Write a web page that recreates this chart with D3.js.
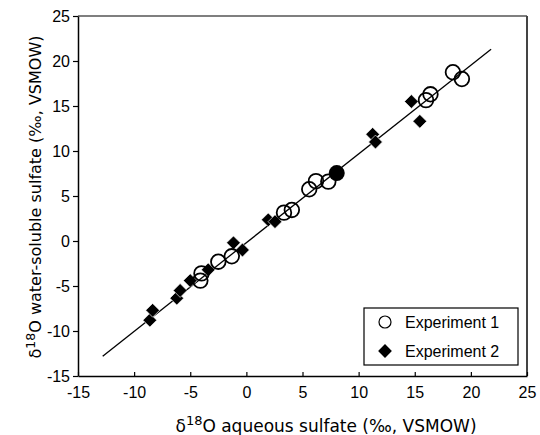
<!DOCTYPE html>
<html>
<head>
<meta charset="utf-8">
<script src="https://cdn.jsdelivr.net/npm/d3@7"></script>
<style>
  body { margin: 0; background: #fff; }
  svg text { font-family: "Liberation Sans", Arial, sans-serif; }
</style>
</head>
<body>
<div id="chart"></div>
<script>
// data
var exp1X = [-4.0, -4.1, -2.5, -1.3, 3.35, 4.05, 5.6, 6.2, 7.3, 16.0, 16.4, 18.4, 19.2];
var exp1Y = [-3.6, -4.4, -2.3, -1.7, 3.15, 3.45, 5.75, 6.65, 6.6, 15.65, 16.3, 18.75, 18.0];
var exp2X = [-8.6, -8.35, -6.2, -5.9, -5.0, -3.4, -1.15, -0.35, 1.95, 2.55, 11.25, 11.5, 14.7, 15.45];
var exp2Y = [-8.8, -7.7, -6.35, -5.5, -4.4, -3.2, -0.2, -1.0, 2.35, 2.15, 11.85, 11.0, 15.5, 13.3];
var filledX = [8.05];
var filledY = [7.55];
var fitX = [-12.8, 21.8];
var fitY = [-12.8, 21.3];
var xTicks = [-15, -10, -5, 0, 5, 10, 15, 20, 25];
var yTicks = [-15, -10, -5, 0, 5, 10, 15, 20, 25];
var seriesNames = ["Experiment 1", "Experiment 2"];

var margin = { top: 16, right: 13, bottom: 59, left: 78 },
  width = 540 - margin.left - margin.right,
  height = 435 - margin.top - margin.bottom;

var svg = d3
  .select("#chart")
  .append("svg")
  .attr("width", 540)
  .attr("height", 435);

var g = svg
  .append("g")
  .attr("transform", "translate(" + margin.left + "," + margin.top + ")");

var x = d3.scaleLinear().domain([-15, 25]).range([0, width]);
var y = d3.scaleLinear().domain([-15, 25]).range([height, 0]);
var fmt = function (d) { return String(d); }; // plain hyphen minus

// frame (top + right)
g.append("line")
  .attr("x1", 0).attr("x2", width)
  .attr("y1", 0).attr("y2", 0)
  .attr("stroke", "#000").attr("stroke-width", 1.2);
g.append("line")
  .attr("x1", width).attr("x2", width)
  .attr("y1", 0).attr("y2", height)
  .attr("stroke", "#444").attr("stroke-width", 2);

// x axis, ticks pointing in
var xAxis = g
  .append("g")
  .attr("transform", "translate(0," + height + ")")
  .call(d3.axisBottom(x).tickValues(xTicks).tickFormat(fmt).tickSizeInner(-4).tickSizeOuter(0).tickPadding(11));
xAxis.select(".domain").attr("stroke-width", 1.5);
xAxis.selectAll(".tick line").attr("stroke-width", 1.2);
xAxis.selectAll("text").attr("font-size", 16).attr("fill", "#000")
  .style("font-family", "Liberation Sans, Arial, sans-serif");

// y axis, ticks pointing out
var yAxis = g
  .append("g")
  .call(d3.axisLeft(y).tickValues(yTicks).tickFormat(fmt).tickSizeInner(5).tickSizeOuter(0).tickPadding(3));
yAxis.select(".domain").attr("stroke-width", 1.5);
yAxis.selectAll(".tick line").attr("stroke-width", 1.2);
yAxis.selectAll("text").attr("font-size", 16).attr("fill", "#000")
  .style("font-family", "Liberation Sans, Arial, sans-serif");

// regression line
var fitData = fitX.map(function (d, i) { return [d, fitY[i]]; });
g.append("path")
  .datum(fitData)
  .attr("fill", "none")
  .attr("stroke", "#000")
  .attr("stroke-width", 1.3)
  .attr("d", d3.line().x(function (d) { return x(d[0]); }).y(function (d) { return y(d[1]); }));

var diamond = d3.symbol().type(d3.symbolSquare).size(95);

// experiment 2 diamonds
g.selectAll(".d2")
  .data(exp2X)
  .enter()
  .append("path")
  .attr("d", diamond)
  .attr("transform", function (d, i) {
    return "translate(" + x(d) + "," + y(exp2Y[i]) + ") rotate(45)";
  })
  .attr("fill", "#000")
  .attr("stroke", "#fff")
  .attr("stroke-width", 0.6);

// filled circle
g.selectAll(".fc")
  .data(filledX)
  .enter()
  .append("circle")
  .attr("cx", function (d) { return x(d); })
  .attr("cy", function (d, i) { return y(filledY[i]); })
  .attr("r", 8)
  .attr("fill", "#000");

// experiment 1 open circles
g.selectAll(".c1")
  .data(exp1X)
  .enter()
  .append("circle")
  .attr("cx", function (d) { return x(d); })
  .attr("cy", function (d, i) { return y(exp1Y[i]); })
  .attr("r", 7.3)
  .attr("fill", "none")
  .attr("stroke", "#000")
  .attr("stroke-width", 1.8);

// legend
var legend = svg.append("g").attr("transform", "translate(364,308)");
legend.append("rect")
  .attr("width", 154).attr("height", 57)
  .attr("fill", "#fff").attr("stroke", "#000").attr("stroke-width", 1.2);
legend.append("circle")
  .attr("cx", 21).attr("cy", 14).attr("r", 6)
  .attr("fill", "none").attr("stroke", "#000").attr("stroke-width", 1.2);
legend.append("path")
  .attr("d", diamond)
  .attr("transform", "translate(21,43) rotate(45)")
  .attr("fill", "#000");
legend.selectAll(".lt")
  .data(seriesNames)
  .enter()
  .append("text")
  .attr("x", 41)
  .attr("y", function (d, i) { return 20 + i * 29; })
  .attr("font-size", 16)
  .text(function (d) { return d; });

// axis titles
var xTitle = svg.append("text")
  .attr("x", 326)
  .attr("y", 432)
  .attr("text-anchor", "middle")
  .style("font-family", "DejaVu Sans, Verdana, sans-serif")
  .attr("font-size", 17);
xTitle.append("tspan").text("\u03b4");
xTitle.append("tspan").attr("dy", -7).attr("font-size", 13).text("18");
xTitle.append("tspan").attr("dy", 7).text("O aqueous sulfate (\u2030, VSMOW)");

var yTitle = svg.append("text")
  .attr("transform", "translate(41,197) rotate(-90)")
  .attr("text-anchor", "middle")
  .style("font-family", "DejaVu Sans, Verdana, sans-serif")
  .attr("font-size", 16);
yTitle.append("tspan").text("\u03b4");
yTitle.append("tspan").attr("dy", -6.5).attr("font-size", 12.5).text("18");
yTitle.append("tspan").attr("dy", 6.5).text("O water-soluble sulfate (\u2030, VSMOW)");
</script>
</body>
</html>
